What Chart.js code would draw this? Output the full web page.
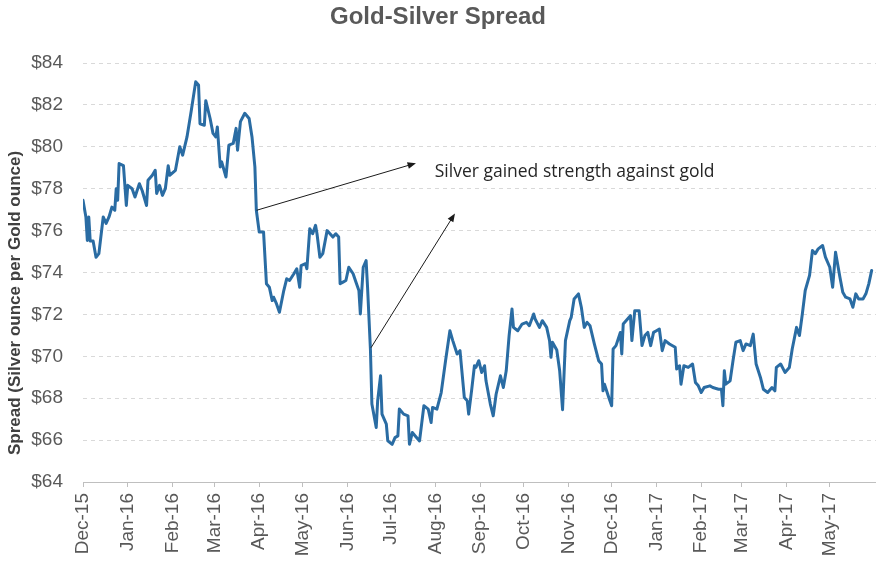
<!DOCTYPE html>
<html>
<head>
<meta charset="utf-8">
<title>Gold-Silver Spread</title>
<script src="https://cdn.jsdelivr.net/npm/chart.js@4.4.1/dist/chart.umd.min.js"></script>
<style>
    html, body { margin: 0; padding: 0; background: #ffffff; }
    #wrap { width: 876px; height: 562px; }
</style>
</head>
<body>
<div id="wrap"><canvas id="myChart" width="876" height="562"></canvas></div>
<script>

// Tage seit 1. Dez 2015 und Spread-Werte
const days = [
    0, 2, 3, 4, 5, 7, 9, 11, 14, 16, 18, 20, 22, 23, 24, 25, 28, 30, 31, 34,
    36, 39, 41, 44, 45, 48, 50, 51, 53, 55, 57, 59, 60, 64, 67, 69, 72, 75, 78, 80,
    81, 84, 85, 88, 90, 92, 93, 95, 96, 99, 101, 104, 106, 107, 109, 112, 115, 117, 119, 120,
    122, 125, 127, 129, 131, 132, 134, 136, 139, 141, 143, 146, 148, 150, 151, 154, 155, 157, 159, 161,
    162, 164, 166, 169, 171, 173, 175, 177, 178, 180, 182, 184, 187, 189, 191, 192, 194, 196, 197, 199,
    200, 203, 204, 206, 207, 210, 211, 214, 216, 218, 219, 222, 225, 226, 228, 230, 233, 236, 239, 241,
    242, 245, 248, 251, 254, 256, 259, 261, 264, 266, 267, 269, 271, 272, 274, 276, 278, 279, 282, 284,
    286, 289, 291, 293, 295, 297, 298, 301, 304, 307, 309, 312, 313, 316, 318, 321, 323, 324, 325, 328,
    330, 332, 334, 337, 338, 340, 343, 345, 347, 349, 351, 354, 357, 359, 360, 361, 364, 366, 367, 369,
    372, 373, 374, 377, 379, 380, 382, 385, 387, 389, 391, 393, 395, 397, 399, 401, 403, 406, 410, 411,
    413, 414, 416, 419, 422, 424, 426, 428, 430, 434, 436, 440, 442, 443, 444, 445, 448, 450, 452, 455,
    457, 459, 462, 464, 466, 469, 471, 474, 477, 479, 480, 483, 486, 489, 491, 494, 496, 498, 500, 503,
    505, 507, 509, 512, 514, 517, 519, 521, 524, 526, 528, 531, 533, 535, 537, 540, 542, 544, 546
];
const spread = [
    77.45, 76.65, 75.53, 76.65, 75.50, 75.50, 74.73, 74.90, 76.65, 76.34, 76.65, 77.12, 76.97, 78.00, 77.45, 79.20, 79.10, 77.20, 78.16, 78.00,
    77.60, 78.24, 77.90, 77.20, 78.40, 78.64, 78.88, 77.77, 78.16, 77.68, 78.00, 79.10, 78.64, 78.88, 80.00, 79.60, 80.47, 81.75, 83.10, 82.95,
    81.10, 81.03, 82.20, 81.35, 80.64, 80.47, 80.95, 79.04, 79.28, 78.56, 80.08, 80.16, 80.88, 79.84, 81.20, 81.60, 81.35, 80.47, 79.04, 76.97,
    75.93, 75.93, 73.46, 73.30, 72.66, 72.82, 72.50, 72.10, 73.14, 73.70, 73.62, 73.94, 74.18, 73.30, 74.33, 74.42, 74.18, 76.09, 75.85, 76.25,
    75.85, 74.73, 74.90, 76.00, 75.85, 75.69, 75.85, 75.69, 73.46, 73.54, 73.62, 74.25, 73.94, 73.54, 73.14, 72.02, 74.25, 74.57, 73.30, 70.30,
    67.72, 66.60, 67.88, 69.07, 67.24, 66.76, 65.96, 65.80, 66.12, 66.20, 67.48, 67.24, 67.16, 65.80, 66.36, 66.20, 65.96, 67.64, 67.48, 66.84,
    67.56, 67.48, 68.27, 69.79, 71.22, 70.75, 70.11, 70.27, 68.03, 67.88, 67.24, 68.35, 69.55, 69.47, 69.79, 69.23, 69.55, 68.83, 67.72, 67.16,
    68.19, 69.07, 68.51, 69.31, 70.99, 72.26, 71.38, 71.22, 71.54, 71.62, 71.46, 72.02, 71.78, 71.38, 71.70, 71.38, 70.75, 69.95, 70.67, 70.30,
    69.31, 67.45, 70.75, 71.70, 71.86, 72.74, 72.98, 72.34, 71.38, 71.62, 71.46, 70.59, 69.79, 69.63, 68.35, 68.67, 68.03, 67.64, 70.35, 70.51,
    71.14, 70.11, 71.54, 71.78, 71.94, 70.75, 72.18, 72.18, 70.51, 70.99, 71.14, 70.51, 71.14, 71.22, 71.30, 70.27, 70.75, 70.59, 70.43, 69.39,
    69.55, 68.67, 69.55, 69.47, 69.63, 68.75, 68.59, 68.27, 68.51, 68.59, 68.51, 68.43, 68.43, 67.64, 69.31, 68.67, 68.83, 69.79, 70.67, 70.75,
    70.27, 70.59, 70.51, 71.06, 69.63, 68.99, 68.43, 68.27, 68.51, 68.35, 69.47, 69.63, 69.23, 69.47, 70.35, 71.38, 70.99, 72.02, 73.14, 73.86,
    75.05, 74.90, 75.13, 75.29, 74.73, 74.25, 73.30, 74.97, 73.78, 73.06, 72.82, 72.74, 72.34, 72.98, 72.74, 72.74, 72.98, 73.46, 74.10
];

// Monatsbeschriftung der x-Achse
const monthLabels = [
    'Dec-15', 'Jan-16', 'Feb-16', 'Mar-16', 'Apr-16', 'May-16', 'Jun-16', 'Jul-16', 'Aug-16',
    'Sep-16', 'Oct-16', 'Nov-16', 'Dec-16', 'Jan-17', 'Feb-17', 'Mar-17', 'Apr-17', 'May-17'
];
const monthStarts = [
    '2015-12-01', '2016-01-01', '2016-02-01', '2016-03-01', '2016-04-01', '2016-05-01', '2016-06-01', '2016-07-01', '2016-08-01',
    '2016-09-01', '2016-10-01', '2016-11-01', '2016-12-01', '2017-01-01', '2017-02-01', '2017-03-01', '2017-04-01', '2017-05-01'
];

// Anmerkung mit den zwei Pfeilen (in Achsen-Einheiten)
const noteText = 'Silver gained strength against gold';
const notePos = { x: 243.5, y: 78.8 };
const arrows = [
    { from: { x: 120.2, y: 76.97 }, to: { x: 230.5, y: 79.22 } },
    { from: { x: 199.4, y: 70.41 }, to: { x: 257.5, y: 76.82 } }
];

const yTitle = 'Spread (Silver ounce per Gold ounce)';

function dayOf(dateStr) {
    return (Date.parse(dateStr) - Date.parse(monthStarts[0])) / 86400000;
}
const monthDays = monthStarts.map(dayOf);

const tickColor = '#595959';

// Pfeile, Text und y-Achsentitel zeichnen
const notePlugin = {
    id: 'notePlugin',
    afterDatasetsDraw(chart) {
        const ctx = chart.ctx;
        const xs = chart.scales.x;
        const ys = chart.scales.y;
        ctx.save();
        ctx.strokeStyle = '#1a1a1a';
        ctx.fillStyle = '#1a1a1a';
        ctx.lineWidth = 1;
        arrows.forEach(a => {
            const x1 = xs.getPixelForValue(a.from.x);
            const y1 = ys.getPixelForValue(a.from.y);
            const x2 = xs.getPixelForValue(a.to.x);
            const y2 = ys.getPixelForValue(a.to.y);
            const ang = Math.atan2(y2 - y1, x2 - x1);
            const head = 9;
            ctx.beginPath();
            ctx.moveTo(x1, y1);
            ctx.lineTo(x2 - Math.cos(ang) * head * 0.8, y2 - Math.sin(ang) * head * 0.8);
            ctx.stroke();
            ctx.beginPath();
            ctx.moveTo(x2, y2);
            ctx.lineTo(x2 - head * Math.cos(ang - 0.38), y2 - head * Math.sin(ang - 0.38));
            ctx.lineTo(x2 - head * Math.cos(ang + 0.38), y2 - head * Math.sin(ang + 0.38));
            ctx.closePath();
            ctx.fill();
        });
        ctx.fillStyle = '#262626';
        ctx.font = '17.5px "Open Sans"';
        ctx.textAlign = 'left';
        ctx.textBaseline = 'middle';
        ctx.fillText(noteText, xs.getPixelForValue(notePos.x), ys.getPixelForValue(notePos.y));

        // y-Achsentitel
        ctx.translate(15, 303);
        ctx.rotate(-Math.PI / 2);
        ctx.fillStyle = '#404040';
        ctx.font = 'bold 17px "Liberation Sans"';
        ctx.textAlign = 'center';
        ctx.fillText(yTitle, 0, 0);
        ctx.restore();
    }
};

const ctx = document.getElementById('myChart').getContext('2d');

new Chart(ctx, {
    type: 'line',
    data: {
        datasets: [{
            label: 'Spread',
            data: days.map((d, i) => ({ x: d, y: spread[i] })),
            borderColor: '#2a6ca3',
            borderWidth: 3,
            borderJoinStyle: 'round',
            borderCapStyle: 'round',
            pointRadius: 0,
            tension: 0,
            fill: false
        }]
    },
    options: {
        responsive: false,
        animation: false,
        layout: { padding: { left: 0, right: 0, top: 0, bottom: 0 } },
        plugins: {
            legend: { display: false },
            tooltip: { enabled: false },
            title: {
                display: true,
                text: 'Gold-Silver Spread',
                color: '#595959',
                font: { family: 'Liberation Sans', size: 24, weight: 'bold' },
                padding: { top: 3, bottom: 31.2 }
            }
        },
        scales: {
            x: {
                type: 'linear',
                min: 0,
                max: 549,
                afterBuildTicks: scale => {
                    scale.ticks = monthDays.map(v => ({ value: v }));
                },
                afterFit: scale => { scale.height = 80; },
                ticks: {
                    color: tickColor,
                    font: { family: 'Liberation Sans', size: 19 },
                    minRotation: 90,
                    maxRotation: 90,
                    autoSkip: false,
                    padding: 6,
                    callback: (value) => {
                        const i = monthDays.indexOf(value);
                        return i >= 0 ? monthLabels[i] : '';
                    }
                },
                grid: {
                    drawOnChartArea: false,
                    drawTicks: true,
                    tickLength: 5,
                    tickColor: '#bfbfbf'
                },
                border: { display: true, color: '#bfbfbf', width: 1 }
            },
            y: {
                min: 64,
                max: 84,
                afterFit: scale => { scale.width = 83; },
                ticks: {
                    stepSize: 2,
                    color: tickColor,
                    font: { family: 'Liberation Sans', size: 19 },
                    padding: 20,
                    callback: v => '$' + v
                },
                grid: {
                    color: '#d9d9d9',
                    lineWidth: 1,
                    drawTicks: false
                },
                border: { display: false, dash: [4, 4] }
            }
        }
    },
    plugins: [notePlugin]
});

</script>
</body>
</html>
